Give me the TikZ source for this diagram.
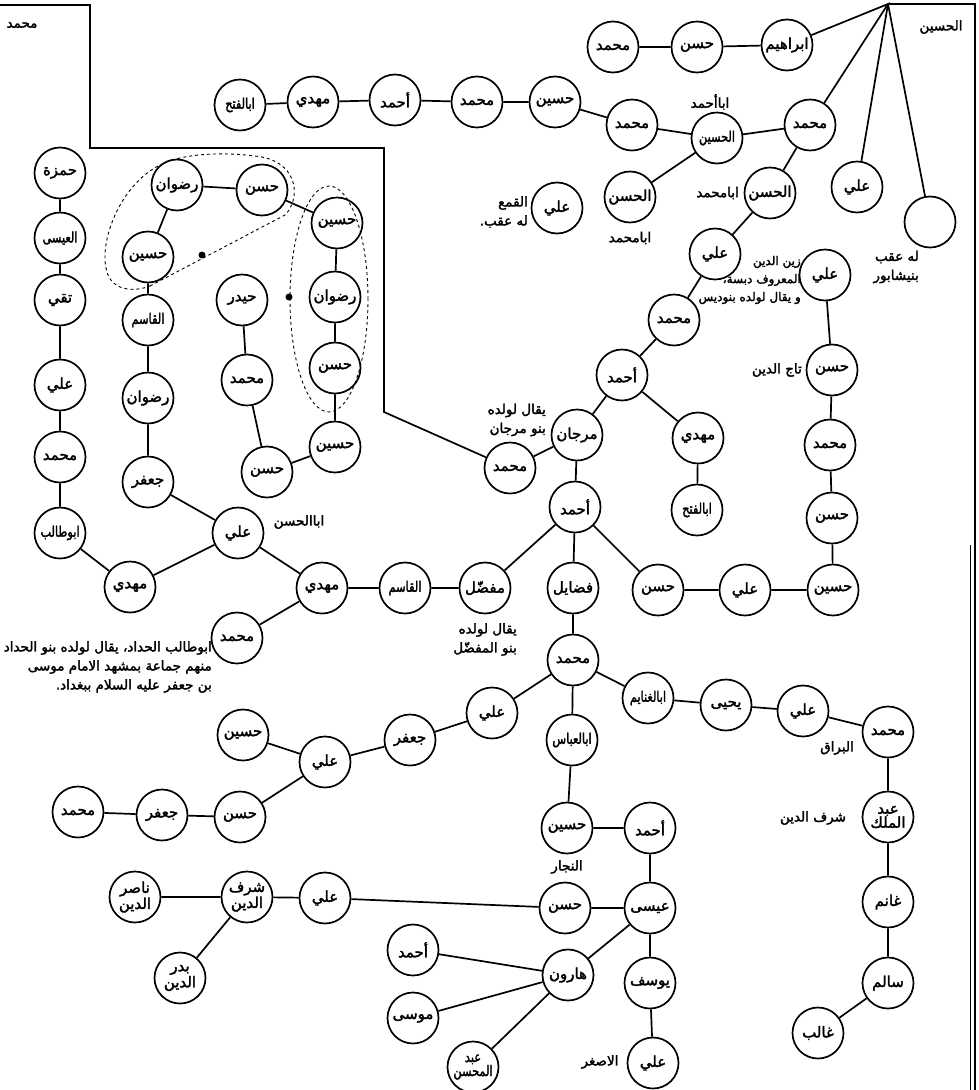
\documentclass[tikz,border=0pt]{standalone}
\usepackage{fontspec}
\usepackage{tikz}
\newfontfamily\arabicfont[Script=Arabic,FakeBold=2.2]{DejaVu Sans}
\newfontfamily\arabicnarrow[Script=Arabic,FakeBold=2.2,FakeStretch=0.78]{DejaVu Sans}
\TeXXeTstate=1
\newcommand{\arb}[1]{\beginR#1\endR}
\newcommand{\namefont}{\arabicfont\fontsize{15}{14}\selectfont}
\newcommand{\longname}{\arabicnarrow\fontsize{14.5}{14}\selectfont}
\newcommand{\notefont}{\arabicfont\fontsize{13.5}{19}\selectfont}
\newcommand{\smallnote}{\arabicfont\fontsize{12}{18}\selectfont}

\begin{document}
\begin{tikzpicture}[x=1pt,y=-1pt,
	pers/.style={circle,draw,line width=1.7pt,minimum size=51pt,inner sep=0pt,align=center,font=\namefont},
	wide/.style={pers,font=\longname},
	note/.style={inner sep=1pt,align=right,font=\notefont},
	link/.style={line width=1.7pt},
	ring/.style={dashed,line width=0.9pt},
	dot/.style={circle,fill,inner sep=0pt,minimum size=7pt}]
\useasboundingbox (0,0) rectangle (979,1090);
\coordinate (apex) at (888,4);
\node[pers] (muhT) at (613,47) {\arb{محمد}};
\node[pers] (hasT) at (697,47) {\arb{حسن}};
\node[pers] (ibr) at (787,45) {\arb{ابراهيم}};
\node[pers] (muhR) at (810,125) {\arb{محمد}};
\node[pers] (aliR) at (857,187) {\arb{علي}};
\node[pers] (blank) at (930,222) {};
\node[wide] (husA) at (717,138) {\arb{الحسين}};
\node[pers] (muhA) at (632,125) {\arb{محمد}};
\node[pers] (husB) at (555,102) {\arb{حسين}};
\node[pers] (muhB) at (477,102) {\arb{محمد}};
\node[pers] (ahmB) at (395,100) {\arb{أحمد}};
\node[pers] (mahB) at (313,102) {\arb{مهدي}};
\node[wide] (fathB) at (240,105) {\arb{ابالفتح}};
\node[pers] (hasL) at (630,197) {\arb{الحسن}};
\node[pers] (aliQ) at (557,208) {\arb{علي}};
\node[pers] (hasM) at (770,193) {\arb{الحسن}};
\node[pers] (aliM) at (715,254) {\arb{علي}};
\node[pers] (muhM) at (674,320) {\arb{محمد}};
\node[pers] (ahmM) at (622,375) {\arb{أحمد}};
\node[pers] (aliZ) at (825,275) {\arb{علي}};
\node[pers] (hasTaj) at (832,370) {\arb{حسن}};
\node[pers] (muhC) at (830,445) {\arb{محمد}};
\node[pers] (hasC) at (832,518) {\arb{حسن}};
\node[pers] (husC) at (833,590) {\arb{حسين}};
\node[pers] (aliC) at (745,590) {\arb{علي}};
\node[pers] (hasC2) at (658,590) {\arb{حسن}};
\node[pers] (mahF) at (698,438) {\arb{مهدي}};
\node[wide] (fathF) at (697,510) {\arb{ابالفتح}};
\node[pers] (marj) at (577,435) {\arb{مرجان}};
\node[pers] (muhMj) at (510,468) {\arb{محمد}};
\node[pers] (ahmC) at (575,507) {\arb{أحمد}};
\node[pers] (mufad) at (485,588) {\arb{مفضّل}};
\node[pers] (fadail) at (573,588) {\arb{فضايل}};
\node[wide] (qasim) at (405,588) {\arb{القاسم}};
\node[pers] (mahR) at (322,588) {\arb{مهدي}};
\node[pers] (aliH) at (238,533) {\arb{علي}};
\node[pers] (mahL) at (130,587) {\arb{مهدي}};
\node[wide] (abutalib) at (60,533) {\arb{ابوطالب}};
\node[pers] (muhL) at (60,457) {\arb{محمد}};
\node[pers] (aliL) at (60,385) {\arb{علي}};
\node[pers] (taqi) at (60,300) {\arb{تقي}};
\node[wide] (isa) at (60,238) {\arb{العيسى}};
\node[pers] (hamza) at (60,173) {\arb{حمزة}};
\node[pers] (jafM) at (148,482) {\arb{جعفر}};
\node[pers] (ridM) at (148,398) {\arb{رضوان}};
\node[wide] (qasimM) at (148,320) {\arb{القاسم}};
\node[pers] (husM) at (148,257) {\arb{حسين}};
\node[pers] (ridT) at (177,185) {\arb{رضوان}};
\node[pers] (hasT2) at (262,190) {\arb{حسن}};
\node[pers] (husO) at (337,223) {\arb{حسين}};
\node[pers] (ridO) at (335,297) {\arb{رضوان}};
\node[pers] (hasO) at (335,368) {\arb{حسن}};
\node[pers] (husO2) at (335,447) {\arb{حسين}};
\node[pers] (hasO2) at (267,472) {\arb{حسن}};
\node[pers] (muhO) at (247,380) {\arb{محمد}};
\node[pers] (haydar) at (242,300) {\arb{حيدر}};
\node[pers] (muhH) at (237,638) {\arb{محمد}};
\node[pers] (muhX) at (573,660) {\arb{محمد}};
\node[pers] (aliX) at (492,713) {\arb{علي}};
\node[pers] (jafX) at (410,740) {\arb{جعفر}};
\node[pers] (aliX2) at (325,762) {\arb{علي}};
\node[pers] (husX) at (243,735) {\arb{حسين}};
\node[pers] (hasX) at (240,817) {\arb{حسن}};
\node[pers] (jafX2) at (162,815) {\arb{جعفر}};
\node[pers] (muhX2) at (78,812) {\arb{محمد}};
\node[wide] (abbas) at (572,740) {\arb{ابالعباس}};
\node[pers] (husN) at (567,828) {\arb{حسين}};
\node[pers] (ahmN) at (650,828) {\arb{أحمد}};
\node[pers] (isaN) at (650,908) {\arb{عيسى}};
\node[pers] (hasN) at (565,908) {\arb{حسن}};
\node[pers] (aliS) at (325,898) {\arb{علي}};
\node[pers] (sharaf) at (247,897) {\arb{شرف}\\\arb{الدين}};
\node[pers] (nasir) at (135,897) {\arb{ناصر}\\\arb{الدين}};
\node[pers] (badr) at (180,978) {\arb{بدر}\\\arb{الدين}};
\node[pers] (harun) at (568,975) {\arb{هارون}};
\node[pers] (ahmH) at (413,950) {\arb{أحمد}};
\node[pers] (musa) at (413,1018) {\arb{موسى}};
\node[wide] (abdm) at (473,1067) {\arb{عبد}\\\arb{المحسن}};
\node[pers] (yusuf) at (650,983) {\arb{يوسف}};
\node[pers] (aliA) at (653,1063) {\arb{علي}};
\node[wide] (ghanaim) at (648,698) {\arb{ابالغنايم}};
\node[pers] (yahya) at (726,705) {\arb{يحيى}};
\node[pers] (aliY) at (803,711) {\arb{علي}};
\node[pers] (muhY) at (888,732) {\arb{محمد}};
\node[pers] (abdmlk) at (888,817) {\arb{عبد}\\\arb{الملك}};
\node[pers] (ghanim) at (888,902) {\arb{غانم}};
\node[pers] (salim) at (888,983) {\arb{سالم}};
\node[pers] (ghalib) at (818,1033) {\arb{غالب}};
\node[note] (kMuh) at (22,25) {\arb{محمد}};
\node[note] (kHusain) at (941,27) {\arb{الحسين}};
\node[note] (kAbaAhmad) at (710,102) {\arb{اباأحمد}};
\node[note] (kAbaMuhL) at (630,238) {\arb{ابامحمد}};
\node[note,anchor=east] (kAbaMuhM) at (740,193) {\arb{ابامحمد}};
\node[note,anchor=east] (kQama) at (529,212) {\arb{القمع}\\\arb{له عقب.}};
\node[note,anchor=east,font=\smallnote] (kZain) at (802,280) {\arb{زين الدين}\\\arb{المعروف دبسة،}\\\arb{و يقال لولده بنوديس}};
\node[note,anchor=east] (kNaisabur) at (920,267) {\arb{له عقب}\\\arb{بنيشابور}};
\node[note,anchor=east] (kTaj) at (803,370) {\arb{تاج الدين}};
\node[note,anchor=east] (kMarjan) at (547,420) {\arb{يقال لولده}\\\arb{بنو مرجان}};
\node[note,anchor=north east] (kMufad) at (518,622) {\arb{يقال لولده}\\\arb{بنو المفضّل}};
\node[note] (kAbaHasan) at (299,522) {\arb{اباالحسن}};
\node[note,anchor=north east] (kHaddad) at (213,640) {\arb{ابوطالب الحداد، يقال لولده بنو الحداد}\\\arb{منهم جماعة بمشهد الامام موسى}\\\arb{بن جعفر عليه السلام ببغداد.}};
\node[note] (kNajjar) at (567,867) {\arb{النجار}};
\node[note] (kAsghar) at (600,1062) {\arb{الاصغر}};
\node[note] (kBuraq) at (837,748) {\arb{البراق}};
\node[note] (kSharaf) at (813,818) {\arb{شرف الدين}};
\node[dot] (dotA) at (202,255) {};
\node[dot] (dotB) at (289,297) {};
\draw[link] (0,5) -- (90,5) -- (90,148) -- (384,148) -- (384,412) -- (muhMj);
\draw[link] (apex) -- (975,4) -- (975,1090);
\draw[line width=0.8pt] (970,545) -- (970,1090);
\draw[link] (muhT) -- (hasT) -- (ibr) -- (apex) -- (muhR);
\draw[link] (apex) -- (aliR);
\draw[link] (apex) -- (blank);
\draw[link] (muhR) -- (husA) -- (muhA) -- (husB) -- (muhB) -- (ahmB) -- (mahB) -- (fathB);
\draw[link] (husA) -- (hasL);
\draw[link] (muhR) -- (hasM) -- (aliM) -- (muhM) -- (ahmM) -- (marj) -- (muhMj);
\draw[link] (ahmM) -- (mahF) -- (fathF);
\draw[link] (aliZ) -- (hasTaj) -- (muhC) -- (hasC) -- (husC) -- (aliC) -- (hasC2) -- (ahmC);
\draw[link] (marj) -- (ahmC) -- (mufad) -- (qasim) -- (mahR) -- (aliH) -- (jafM) -- (ridM) -- (qasimM) -- (husM) -- (ridT) -- (hasT2) -- (husO) -- (ridO) -- (hasO) -- (husO2) -- (hasO2) -- (muhO) -- (haydar);
\draw[link] (ahmC) -- (fadail) -- (muhX);
\draw[link] (mahR) -- (muhH);
\draw[link] (aliH) -- (mahL) -- (abutalib) -- (muhL) -- (aliL) -- (taqi) -- (isa) -- (hamza);
\draw[link] (muhX) -- (aliX) -- (jafX) -- (aliX2) -- (husX);
\draw[link] (aliX2) -- (hasX) -- (jafX2) -- (muhX2);
\draw[link] (muhX) -- (abbas) -- (husN) -- (ahmN) -- (isaN) -- (hasN) -- (aliS) -- (sharaf) -- (nasir);
\draw[link] (sharaf) -- (badr);
\draw[link] (isaN) -- (harun) -- (ahmH);
\draw[link] (harun) -- (musa);
\draw[link] (harun) -- (abdm);
\draw[link] (isaN) -- (yusuf) -- (aliA);
\draw[link] (muhX) -- (ghanaim) -- (yahya) -- (aliY) -- (muhY) -- (abdmlk) -- (ghanim) -- (salim) -- (ghalib);
\draw[ring] (150,286) -- (285,215) .. controls (300,200) and (300,165) .. (262,157) .. controls (230,152) and (185,152) .. (160,165) .. controls (120,185) and (100,240) .. (106,268) .. controls (110,292) and (135,292) .. (150,286);
\draw[ring] (329,299) ellipse [x radius=39pt, y radius=113pt];
\end{tikzpicture}
\end{document}
